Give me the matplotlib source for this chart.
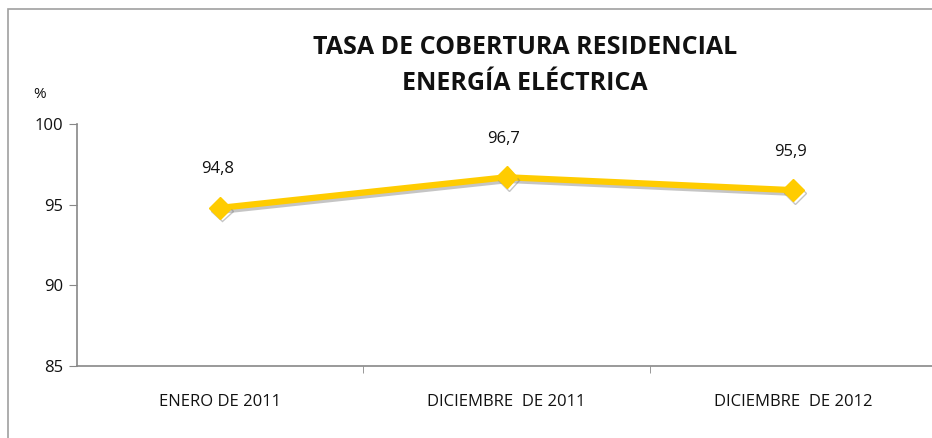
import matplotlib
matplotlib.use("Agg")
import matplotlib.pyplot as plt
import matplotlib.patheffects as pe
from matplotlib.patches import Rectangle

periodos = ["ENERO DE 2011", "DICIEMBRE  DE 2011", "DICIEMBRE  DE 2012"]
cobertura = [94.8, 96.7, 95.9]
etiquetas = ["94,8", "96,7", "95,9"]
y_ticks = [85, 90, 95, 100]

plt.rcParams['font.family'] = ['Liberation Sans Narrow', 'Open Sans', 'DejaVu Sans']

fig = plt.figure(figsize=(9.32, 4.38), dpi=100)
# marco del grafico
fig.patches.append(Rectangle((8 / 932, -0.05), 1.2, 1 - 9 / 438 + 0.05,
                             transform=fig.transFigure, fill=False,
                             edgecolor='#a0a0a0', linewidth=1.2))

ax = fig.add_axes([77 / 932, 1 - 366 / 438, (936 - 77) / 932, (366 - 124) / 438])
x = list(range(len(periodos)))
ax.plot(x, cobertura, color='#FFCC00', linewidth=4.5, marker='D', markersize=11,
        solid_capstyle='round',
        path_effects=[pe.SimpleLineShadow(offset=(1.5, -2), shadow_color='#808080', alpha=0.45),
                      pe.Normal()])

for xi, v, t in zip(x, cobertura, etiquetas):
    ax.annotate(t, (xi, v), xytext=(-2, 22), textcoords='offset points',
                ha='center', va='bottom', fontsize=12, color='#111111')

ax.set_xlim(-0.5, 2.5)
ax.set_ylim(85, 100)
ax.set_yticks(y_ticks)
ax.set_xticks(x)
ax.set_xticklabels(periodos)
ax.set_xticks([0.5, 1.5], minor=True)
ax.tick_params(axis='x', which='major', length=0, pad=20, labelsize=12, labelcolor='#111111')
ax.tick_params(axis='x', which='minor', length=5, color='#888888', direction='out')
ax.tick_params(axis='y', length=6, color='#888888', labelsize=12, pad=4, labelcolor='#111111')
for s in ['top', 'right']:
    ax.spines[s].set_visible(False)
for s in ['left', 'bottom']:
    ax.spines[s].set_color('#888888')
    ax.spines[s].set_linewidth(1.2)

fig.text(525 / 932, 1 - 48 / 438, "TASA DE COBERTURA RESIDENCIAL", ha='center', va='center',
         fontsize=18, fontweight='bold', color='#111111')
fig.text(525 / 932, 1 - 84 / 438, "ENERGÍA ELÉCTRICA", ha='center', va='center',
         fontsize=18, fontweight='bold', color='#111111')
fig.text(40 / 932, 1 - 95 / 438, "%", ha='center', va='center', fontsize=11, color='#111111')

fig.savefig("out.png", dpi=100)
